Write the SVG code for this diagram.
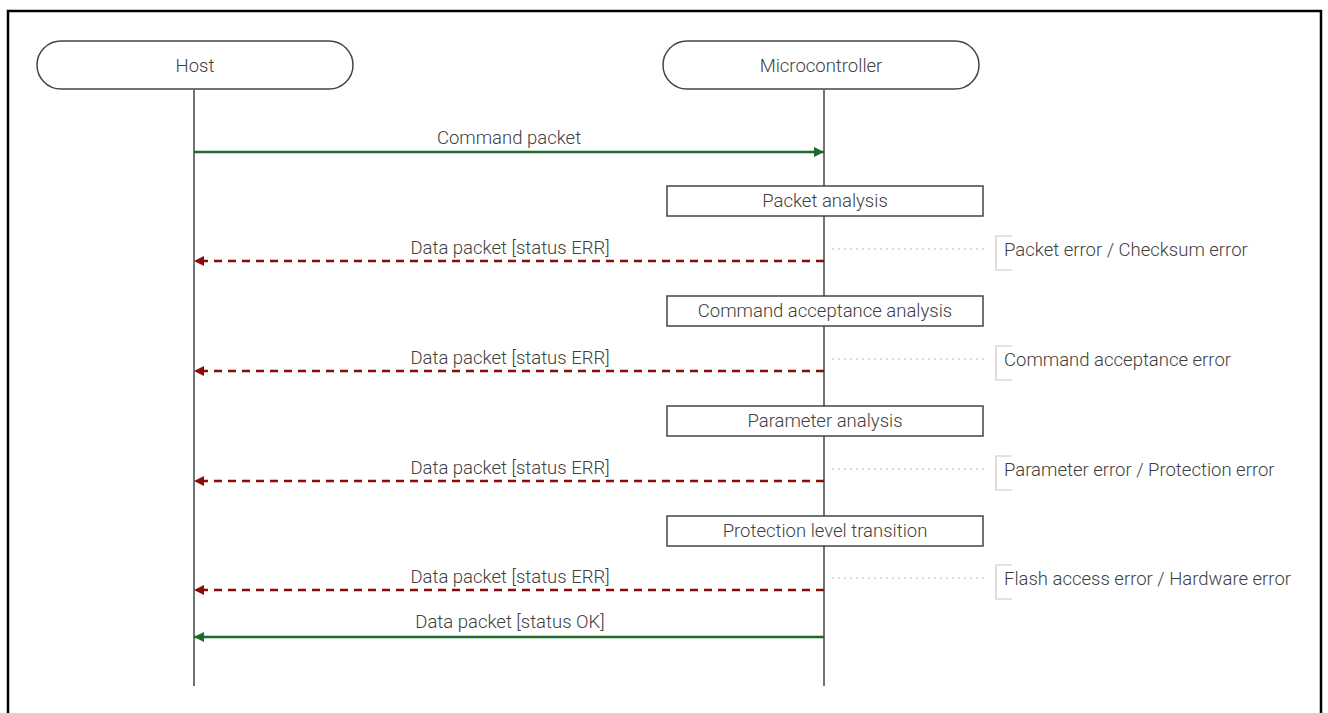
<svg xmlns="http://www.w3.org/2000/svg" width="1328" height="713" viewBox="0 0 1328 713">
<defs>
<marker id="ag" viewBox="0 0 10 10" refX="10" refY="5" markerWidth="10" markerHeight="10" markerUnits="userSpaceOnUse" orient="auto"><path d="M0,0 L10,5 L0,10 z" fill="#1b6b2a"/></marker>
<marker id="ar" viewBox="0 0 10 10" refX="10" refY="5" markerWidth="10" markerHeight="10" markerUnits="userSpaceOnUse" orient="auto"><path d="M0,0 L10,5 L0,10 z" fill="#8b0a0a"/></marker>
</defs>
<style>
text{font-family:Roboto,"Liberation Sans",sans-serif;font-size:18.5px;font-weight:300;fill:#404040}
.c{text-anchor:middle}
.pill{fill:#fff;stroke:#444;stroke-width:1.5}
.box{fill:#fff;stroke:#444;stroke-width:1.5}
.life{stroke:#444;stroke-width:1.5}
.ok{stroke:#1b6b2a;stroke-width:2.5;fill:none;marker-end:url(#ag)}
.err{stroke:#8b0a0a;stroke-width:2.5;fill:none;stroke-dasharray:8,6;marker-end:url(#ar)}
.dot{stroke:#bbb;stroke-width:1;stroke-dasharray:2,4}
.br{fill:none;stroke:#c8c8c8;stroke-width:1.2}
</style>
<rect width="1328" height="713" fill="#fff"/>
<path d="M8,720 V11 H1321 V720" fill="none" stroke="#000" stroke-width="2.5"/>
<g id="lifelines">
<line class="life" x1="194" y1="90" x2="194" y2="686"/>
<line class="life" x1="824" y1="90" x2="824" y2="686"/>
</g>
<g id="host"><rect class="pill" x="37" y="41" width="316" height="48" rx="24"/><text class="c" x="195" y="72">Host</text></g>
<g id="mcu"><rect class="pill" x="663" y="41" width="316" height="48" rx="24"/><text class="c" x="821" y="72">Microcontroller</text></g>
<g id="a1"><rect class="box" x="667" y="186" width="316" height="30"/><text class="c" x="825" y="207">Packet analysis</text></g>
<g id="a2"><rect class="box" x="667" y="296" width="316" height="30"/><text class="c" x="825" y="317">Command acceptance analysis</text></g>
<g id="a3"><rect class="box" x="667" y="406" width="316" height="30"/><text class="c" x="825" y="427">Parameter analysis</text></g>
<g id="a4"><rect class="box" x="667" y="516" width="316" height="30"/><text class="c" x="825" y="537">Protection level transition</text></g>
<g id="n1"><path class="br" d="M1012,236 H996 V270 H1012"/><text x="1004" y="256">Packet error / Checksum error</text></g>
<g id="n2"><path class="br" d="M1012,346 H996 V380 H1012"/><text x="1004" y="366">Command acceptance error</text></g>
<g id="n3"><path class="br" d="M1012,456 H996 V490 H1012"/><text x="1004" y="476">Parameter error / Protection error</text></g>
<g id="n4"><path class="br" d="M1012,565 H996 V599 H1012"/><text x="1004" y="585">Flash access error / Hardware error</text></g>
<g id="connectors">
<line class="ok" x1="194" y1="152" x2="824" y2="152"/>
<text class="c" x="509" y="144">Command packet</text>
<line class="err" x1="824" y1="261" x2="194" y2="261"/>
<text class="c" x="510" y="254">Data packet [status ERR]</text>
<line class="err" x1="824" y1="371" x2="194" y2="371"/>
<text class="c" x="510" y="364">Data packet [status ERR]</text>
<line class="err" x1="824" y1="481" x2="194" y2="481"/>
<text class="c" x="510" y="474">Data packet [status ERR]</text>
<line class="err" x1="824" y1="590" x2="194" y2="590"/>
<text class="c" x="510" y="583">Data packet [status ERR]</text>
<line class="ok" x1="824" y1="637" x2="194" y2="637"/>
<text class="c" x="510" y="628">Data packet [status OK]</text>
<line class="dot" x1="832" y1="249" x2="988" y2="249"/>
<line class="dot" x1="832" y1="359" x2="988" y2="359"/>
<line class="dot" x1="832" y1="469" x2="988" y2="469"/>
<line class="dot" x1="832" y1="578" x2="988" y2="578"/>
</g>
</svg>
